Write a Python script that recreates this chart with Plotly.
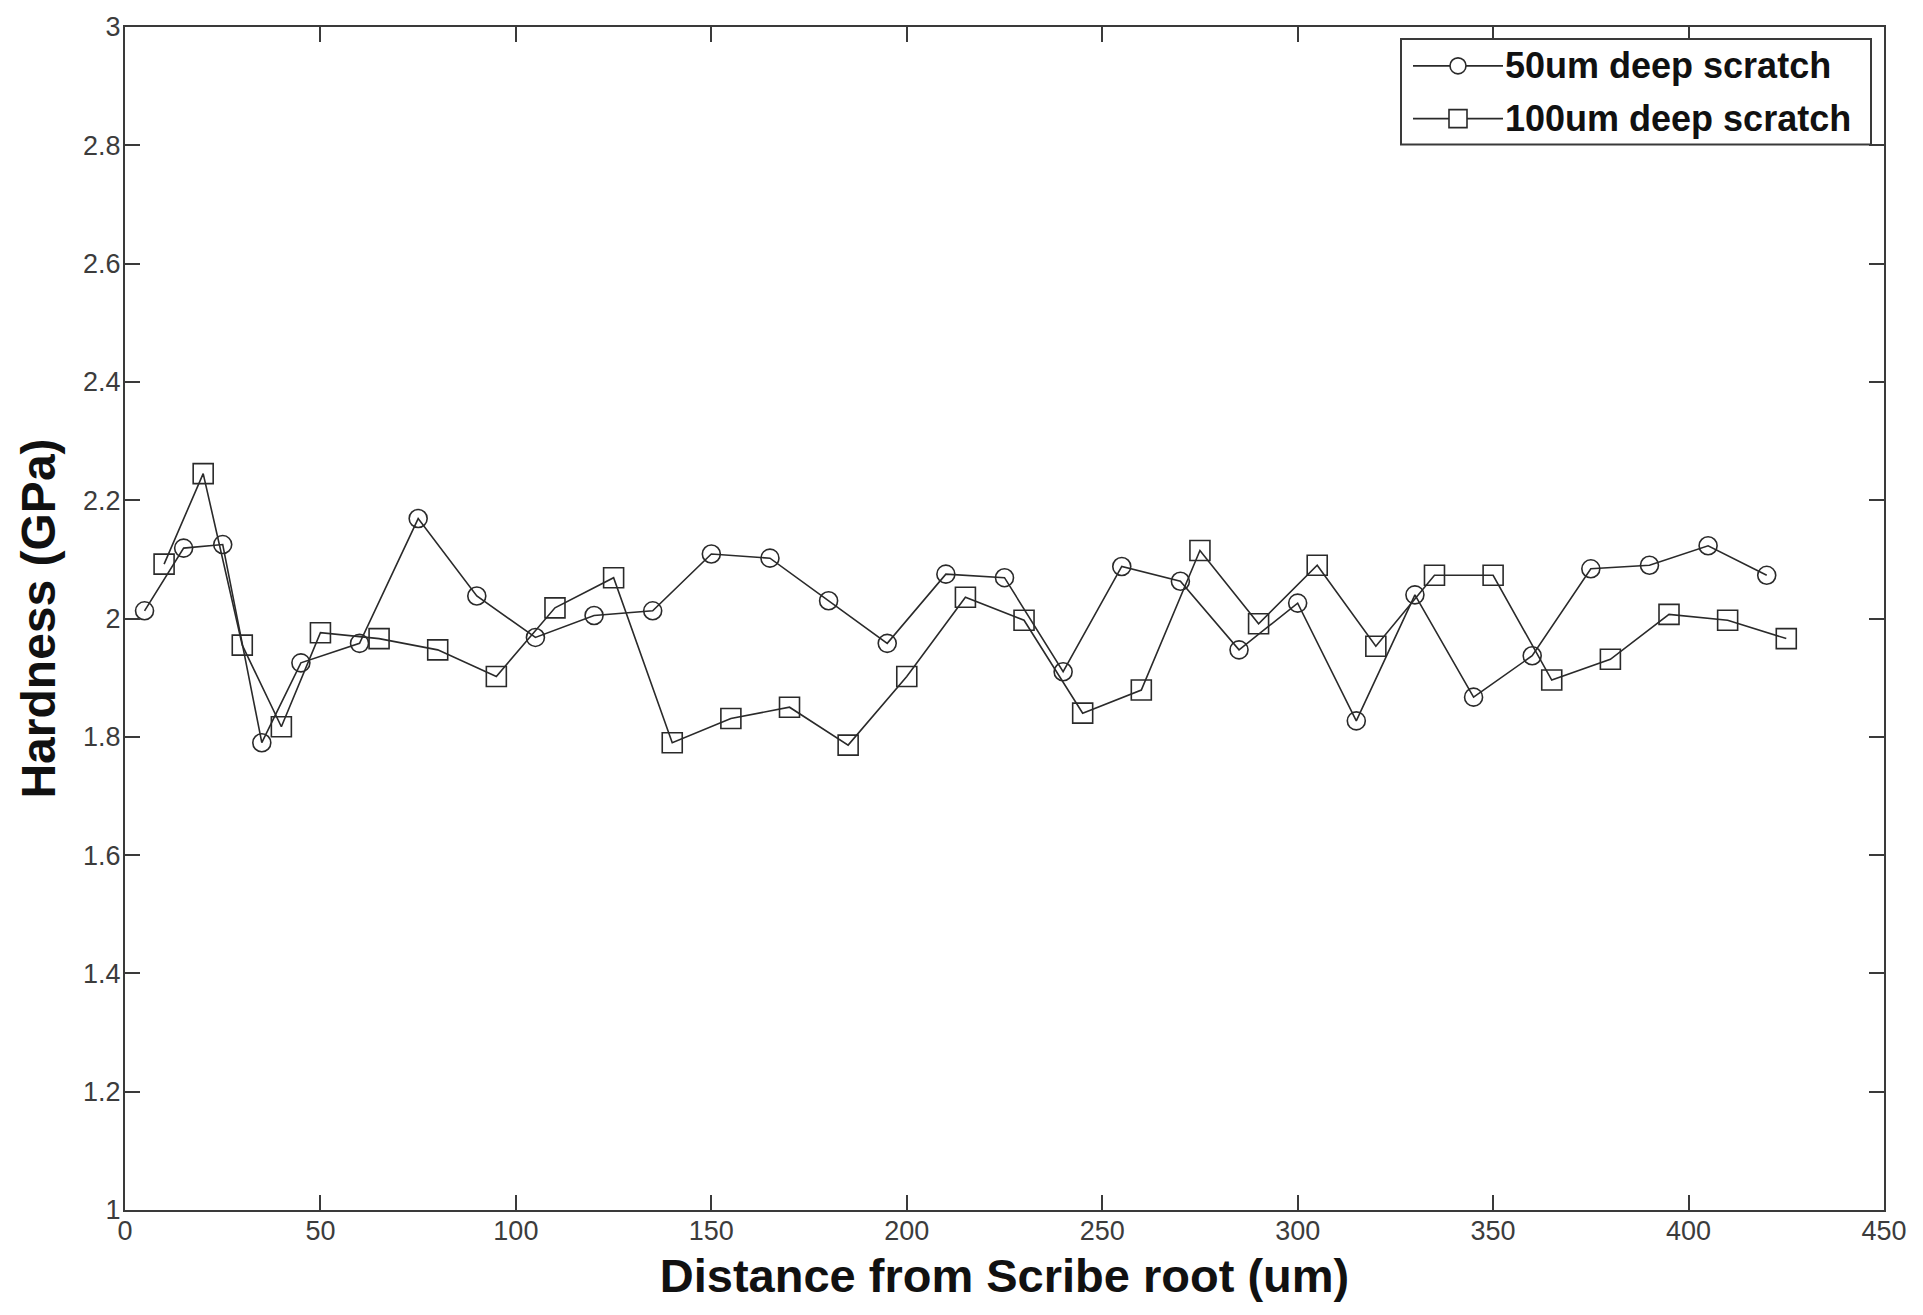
import plotly.graph_objects as go

# Hardness profiles measured along the distance from the scribe root
dist_50 = [5, 15, 25, 35, 45, 60, 75, 90, 105, 120, 135, 150, 165, 180, 195,
           210, 225, 240, 255, 270, 285, 300, 315, 330, 345, 360, 375, 390, 405, 420]
hard_50 = [2.013, 2.119, 2.125, 1.790, 1.925, 1.958, 2.169, 2.038, 1.968, 2.005,
           2.013, 2.109, 2.102, 2.030, 1.958, 2.075, 2.069, 1.910, 2.088, 2.063,
           1.947, 2.026, 1.827, 2.040, 1.867, 1.937, 2.084, 2.090, 2.123, 2.073]

dist_100 = [10, 20, 30, 40, 50, 65, 80, 95, 110, 125, 140, 155, 170, 185, 200,
            215, 230, 245, 260, 275, 290, 305, 320, 335, 350, 365, 380, 395, 410, 425]
hard_100 = [2.092, 2.245, 1.955, 1.817, 1.976, 1.966, 1.947, 1.902, 2.018, 2.069,
            1.790, 1.831, 1.850, 1.786, 1.902, 2.036, 1.997, 1.840, 1.879, 2.115,
            1.991, 2.090, 1.953, 2.073, 2.073, 1.896, 1.931, 2.007, 1.997, 1.966]

series_names = ["50um deep scratch", "100um deep scratch"]

x_ticks = [0, 50, 100, 150, 200, 250, 300, 350, 400, 450]
y_ticks = [1, 1.2, 1.4, 1.6, 1.8, 2, 2.2, 2.4, 2.6, 2.8, 3]
y_tick_text = ["1", "1.2", "1.4", "1.6", "1.8", "2", "2.2", "2.4", "2.6", "2.8", "3"]

W, H = 1923, 1315
ML, MR, MT, MB = 125, 39, 22, 105
PW, PH = W - ML - MR, H - MT - MB

LINE = "#2a2a2a"
AXIS = "#3a3a3a"
FAMILY = "Liberation Sans, Arial, sans-serif"
TICKFONT = dict(family=FAMILY, size=27, color="#3c3c3c")


def px_x(px):
    return (px - ML) / PW


def px_y(py):
    return (H - MB - py) / PH


fig = go.Figure()

fig.add_trace(go.Scatter(
    x=dist_50, y=hard_50, mode="lines+markers", name=series_names[0],
    line=dict(color=LINE, width=1.6),
    marker=dict(symbol="circle-open", size=18, color=LINE, line=dict(width=1.6, color=LINE)),
    showlegend=False,
))
fig.add_trace(go.Scatter(
    x=dist_100, y=hard_100, mode="lines+markers", name=series_names[1],
    line=dict(color=LINE, width=1.6),
    marker=dict(symbol="square-open", size=20, color=LINE, line=dict(width=1.6, color=LINE)),
    showlegend=False,
))

# Legend box drawn by hand: frame, line samples with markers, labels
shapes = [
    dict(type="rect", xref="paper", yref="paper",
         x0=px_x(1401), x1=px_x(1871), y0=px_y(140), y1=px_y(34),
         line=dict(color=AXIS, width=2), fillcolor="white", layer="above"),
]
rows = [(61, "circle"), (114, "rect")]
annotations = []
for (ry, kind), label in zip(rows, series_names):
    shapes.append(dict(type="line", xref="paper", yref="paper",
                       x0=px_x(1413), x1=px_x(1503), y0=px_y(ry), y1=px_y(ry),
                       line=dict(color=LINE, width=1.6), layer="above"))
    half = 8 if kind == "circle" else 9
    shapes.append(dict(type=kind, xref="paper", yref="paper",
                       xsizemode="pixel", ysizemode="pixel",
                       xanchor=px_x(1458), yanchor=px_y(ry),
                       x0=-half, x1=half, y0=-half, y1=half,
                       line=dict(color=LINE, width=1.6), fillcolor="white", layer="above"))
    annotations.append(dict(
        x=px_x(1503), y=px_y(ry), xref="paper", yref="paper",
        xanchor="left", yanchor="middle", showarrow=False, text=label,
        font=dict(family=FAMILY, size=36, color="#111111", weight="bold"),
    ))

fig.update_layout(
    width=W, height=H,
    margin=dict(l=ML, r=MR, t=MT, b=MB, pad=0),
    paper_bgcolor="white", plot_bgcolor="white",
    shapes=shapes, annotations=annotations,
    showlegend=False,
)

fig.update_xaxes(
    range=[0, 450], tickvals=x_ticks, ticks="inside", ticklen=15, tickwidth=1.6,
    tickcolor=AXIS, showline=True, linecolor=AXIS, linewidth=2, mirror="ticks",
    showgrid=False, zeroline=False, tickfont=TICKFONT, ticklabelstandoff=-4,
    title=dict(text="<b>Distance from Scribe root (um)</b>",
               font=dict(family=FAMILY, size=47, color="#111111"), standoff=14),
)
fig.update_yaxes(
    range=[1, 3], tickvals=y_ticks, ticktext=y_tick_text, ticks="inside", ticklen=15,
    tickwidth=1.6, tickcolor=AXIS, showline=True, linecolor=AXIS, linewidth=2,
    mirror="ticks", showgrid=False, zeroline=False, tickfont=TICKFONT, ticklabelstandoff=-3,
    title=dict(text="<b>Hardness (GPa)</b>",
               font=dict(family=FAMILY, size=48, color="#111111"), standoff=12),
)

fig.write_html("out.html")
